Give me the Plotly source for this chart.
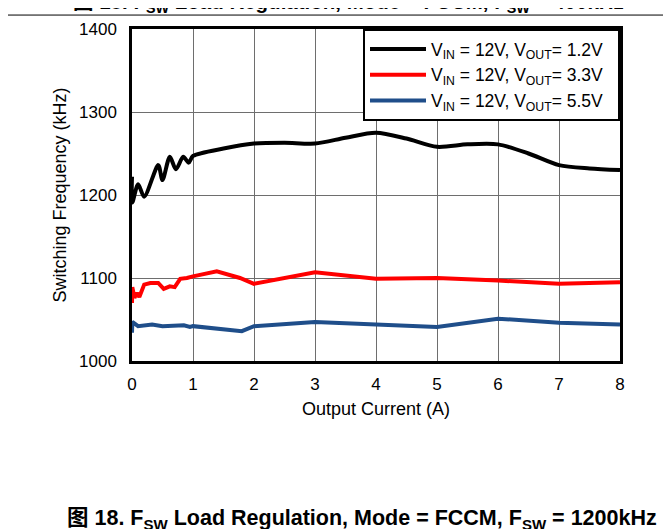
import plotly.graph_objects as go

# ---- data ----
x_12 = [0, 0.005, 0.1, 0.2, 0.43, 0.5, 0.62, 0.72, 0.84, 0.93, 1.0, 1.5, 2, 2.5, 3, 3.5, 4, 4.5, 5, 5.5, 6, 6.5, 7, 7.5, 8]
y_12 = [1222, 1191, 1213, 1198, 1236, 1218, 1246, 1231, 1246, 1239, 1247, 1256, 1262, 1263, 1262, 1269, 1275, 1268, 1258, 1261, 1261, 1250, 1236, 1232, 1230]

x_33 = [0, 0.005, 0.04, 0.08, 0.12, 0.2, 0.3, 0.43, 0.52, 0.62, 0.7, 0.79, 0.9, 1.0, 1.39, 1.77, 2, 3, 4, 5, 6, 7, 8]
y_33 = [1070, 1089, 1076, 1082, 1077, 1092, 1094, 1094, 1087, 1090, 1089, 1099, 1100, 1102, 1108, 1100, 1093, 1107, 1099, 1100, 1097, 1093, 1095]

x_55 = [0, 0.005, 0.1, 0.33, 0.5, 0.7, 0.85, 0.95, 1.0, 1.8, 2, 3, 4, 5, 6, 7, 8]
y_55 = [1034, 1047, 1042, 1044, 1042, 1042, 1043, 1041, 1042, 1036, 1042, 1047, 1044, 1041, 1051, 1046, 1044]

names = ["V<sub>IN</sub> = 12V, V<sub>OUT</sub>= 1.2V",
         "V<sub>IN</sub> = 12V, V<sub>OUT</sub>= 3.3V",
         "V<sub>IN</sub> = 12V, V<sub>OUT</sub>= 5.5V"]
colors = ["#000000", "#FF0000", "#1F4E8A"]
shapes_ = ["spline", "linear", "linear"]

x_ticks = [0, 1, 2, 3, 4, 5, 6, 7, 8]
y_ticks = [1000, 1100, 1200, 1300, 1400]

FONT = "Arial, Liberation Sans, Noto Sans CJK SC, sans-serif"

fig = go.Figure()
for xs, ys, nm, c, sh in zip([x_12, x_33, x_55], [y_12, y_33, y_55], names, colors, shapes_):
    fig.add_trace(go.Scatter(x=xs, y=ys, mode="lines", name=nm + "\u00a0\u00a0",
                             line=dict(color=c, width=4, shape=sh, smoothing=0.8),
                             legendgroup=nm))

fig.update_layout(
    width=671, height=529,
    margin=dict(l=124, r=59, t=21, b=176),
    paper_bgcolor="white", plot_bgcolor="white",
    font=dict(family=FONT, size=15, color="#000"),
    showlegend=True,
    legend=dict(x=1, xanchor="right", y=1, yanchor="top",
                bgcolor="white", bordercolor="black", borderwidth=2,
                font=dict(size=17.5), itemwidth=56, tracegroupgap=0,
                traceorder="normal"),
    xaxis=dict(range=[0, 8], tickvals=x_ticks, showgrid=True, gridcolor="#6e6e6e", gridwidth=1,
               showline=True, linecolor="black", linewidth=2.5, mirror=True, zeroline=False,
               ticks="", ticklabelstandoff=6, tickfont=dict(size=17),
               title=dict(text="Output Current (A)", standoff=10)),
    yaxis=dict(range=[1000, 1400], tickvals=y_ticks, showgrid=True, gridcolor="#6e6e6e", gridwidth=1,
               showline=True, linecolor="black", linewidth=2.5, mirror=True, zeroline=False,
               ticks="", ticklabelstandoff=9, tickfont=dict(size=17),
               title=dict(text="Switching Frequency (kHz)", standoff=8)),
)

fig.add_annotation(text="<b>图 18. F<sub>SW</sub> Load Regulation, Mode = FCCM, F<sub>SW</sub> = 400kHz</b>",
                   xref="paper", yref="paper", x=0.4436, y=1.079, xanchor="center", yanchor="middle",
                   showarrow=False, font=dict(size=20.5, family=FONT))
fig.add_annotation(text="<b>图 18. F<sub>SW</sub> Load Regulation, Mode = FCCM, F<sub>SW</sub> = 1200kHz</b>",
                   xref="paper", yref="paper", x=0.471, y=-0.478, xanchor="center", yanchor="middle",
                   showarrow=False, font=dict(size=21.5, family=FONT))
fig.add_shape(type="line", xref="paper", yref="paper", x0=-0.3, x1=1.15, y0=1.042, y1=1.042,
              line=dict(color="black", width=1))

fig.write_html("out.html")
